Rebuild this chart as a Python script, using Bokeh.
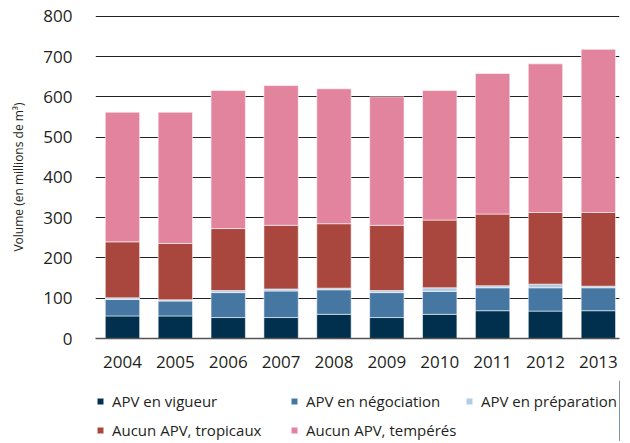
from bokeh.plotting import figure
from bokeh.layouts import column
from bokeh.models import Range1d, FixedTicker, Legend, LegendItem, ColumnDataSource
from bokeh.embed import file_html
from bokeh.resources import INLINE

years = ["2004", "2005", "2006", "2007", "2008", "2009", "2010", "2011", "2012", "2013"]
vigueur = [56, 56, 52, 52, 60, 52, 60, 69, 68, 69]
negociation = [41, 37, 62, 66, 61, 62, 57, 57, 58, 57]
preparation = [4, 3, 5, 5, 4, 5, 9, 5, 9, 4]
tropicaux = [139, 140, 154, 158, 160, 162, 168, 178, 178, 183]
temperes = [322, 326, 343, 347, 335, 319, 322, 349, 369, 405]
y_ticks = [0, 100, 200, 300, 400, 500, 600, 700, 800]

series_keys = ["vigueur", "negociation", "preparation", "tropicaux", "temperes"]
series_labels = ["APV en vigueur", "APV en négociation", "APV en préparation",
                 "Aucun APV, tropicaux", "Aucun APV, tempérés"]
colors = ["#00304d", "#4677a3", "#b3cce6", "#a9473e", "#e3849f"]

xs = list(range(len(years)))
source = ColumnDataSource(dict(x=xs, vigueur=vigueur, negociation=negociation,
                               preparation=preparation, tropicaux=tropicaux,
                               temperes=temperes))

FONT = "Open Sans"
TXT = "#231f20"
W = 622
H_MAIN = 380
H_LEG = 61
BL, BR = 95, 3

p = figure(width=W, height=H_MAIN, output_backend="svg", toolbar_location=None,
           x_range=Range1d(-0.51, 9.40), y_range=Range1d(0, 802),
           min_border_left=BL, min_border_right=BR, min_border_top=15,
           min_border_bottom=42)
p.outline_line_color = None

renderers = p.vbar_stack(series_keys, x="x", width=0.65, source=source,
                         fill_color=colors, line_color="white", line_alpha=0.55,
                         line_width=1)

# axes
p.yaxis.ticker = FixedTicker(ticks=y_ticks)
p.yaxis.axis_line_color = None
p.yaxis.major_tick_line_color = None
p.yaxis.minor_tick_line_color = None
p.yaxis.major_label_text_font = FONT
p.yaxis.major_label_text_font_size = "17px"
p.yaxis.major_label_text_color = TXT
p.yaxis.major_label_standoff = 17
p.yaxis.axis_label = "Volume (en millions de m³)"
p.yaxis.axis_label_text_font = FONT
p.yaxis.axis_label_text_font_size = "12px"
p.yaxis.axis_label_text_font_style = "normal"
p.yaxis.axis_label_text_color = TXT
p.yaxis.axis_label_standoff = 13

p.xaxis.ticker = FixedTicker(ticks=xs)
p.xaxis.major_label_overrides = {i: y for i, y in zip(xs, years)}
p.xaxis.axis_line_color = "#555555"
p.xaxis.axis_line_width = 1.5
p.xaxis.major_tick_line_color = None
p.xaxis.minor_tick_line_color = None
p.xaxis.major_label_text_font = FONT
p.xaxis.major_label_text_font_size = "17px"
p.xaxis.major_label_text_color = TXT
p.xaxis.major_label_standoff = 11

p.xgrid.visible = False
p.ygrid.grid_line_color = "#222222"
p.ygrid.grid_line_width = 1

# legend strip (same series, drawn outside its visible range; only the legend shows)
lp = figure(width=W, height=H_LEG, output_backend="svg", toolbar_location=None,
            x_range=Range1d(-100, -99), y_range=Range1d(0, 1),
            x_axis_location=None, y_axis_location=None,
            min_border_left=BL, min_border_right=BR, min_border_top=0, min_border_bottom=0)
lp.outline_line_color = None
lp.grid.visible = False
swatches = lp.vbar_stack(series_keys, x="x", width=0.65, source=source,
                         fill_color=colors, line_color="white", line_alpha=0.4,
                         line_width=1)

columns_spec = [([0, 3], 1, 1), ([1, 4], 195, 1), ([2], 370, 30)]
for idxs, xoff, yoff in columns_spec:
    items = [LegendItem(label=series_labels[i], renderers=[swatches[i]]) for i in idxs]
    lg = Legend(items=items, location=(xoff, yoff), orientation="vertical",
                border_line_color=None, background_fill_alpha=0, padding=0, margin=0,
                spacing=9, label_height=20, glyph_width=8, glyph_height=8,
                label_standoff=8, label_text_font=FONT, label_text_font_size="15px",
                label_text_color=TXT)
    lp.add_layout(lg)

layout = column(p, lp, spacing=0)
open("out.html", "w").write(file_html(layout, INLINE))
